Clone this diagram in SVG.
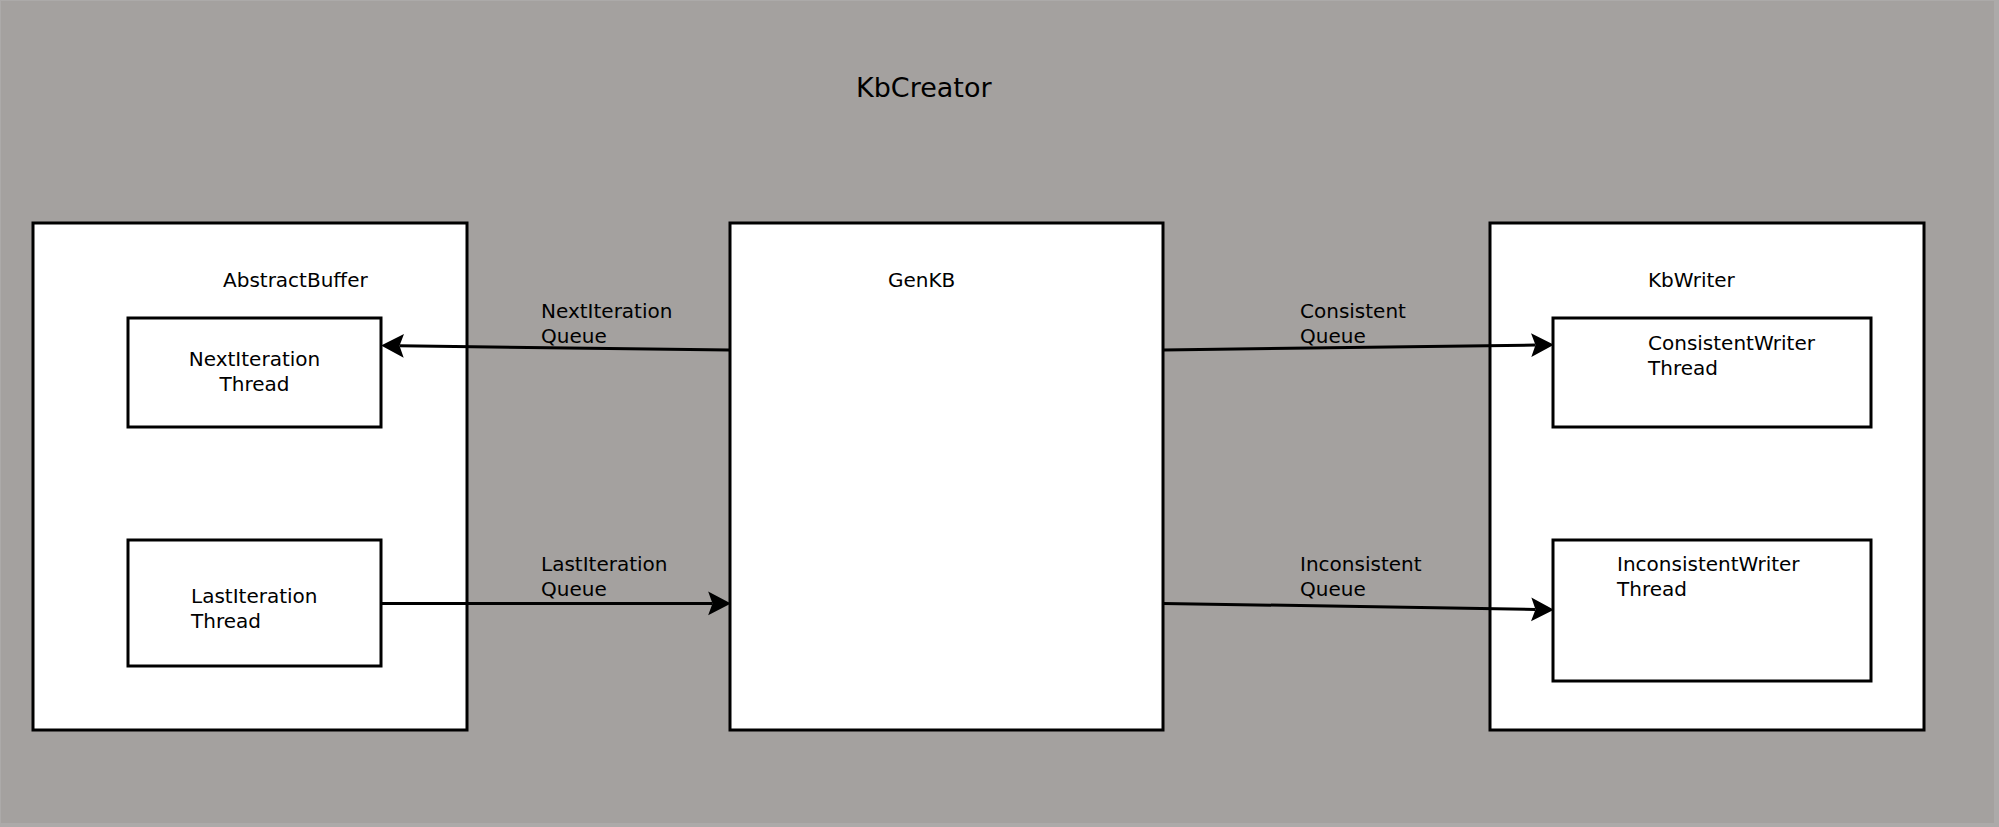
<svg xmlns="http://www.w3.org/2000/svg" width="1999" height="827" viewBox="0 0 1999 827">
<style>
.box{fill:#ffffff;stroke:#000000;stroke-width:3}
.lbl{font-family:"DejaVu Sans","Liberation Sans",sans-serif;font-size:20px;fill:#000000}
.title{font-family:"DejaVu Sans","Liberation Sans",sans-serif;font-size:27px;fill:#000000}
.conn{stroke:#000000;stroke-width:3;fill:none;marker-end:url(#arr)}
</style>
<defs>
<marker id="arr" markerUnits="userSpaceOnUse" markerWidth="24" markerHeight="26" viewBox="0 -12 22 24" refX="4" refY="0" orient="auto">
<path d="M0,-11 L21,0 L0,11 L4,0 Z" fill="#000000"/>
</marker>
</defs>
<rect x="0" y="0" width="1999" height="827" fill="#acaaa9"/>
<rect x="1" y="1" width="1993" height="822" fill="#a4a19f"/>
<g id="kbcreator">
<text class="title" x="856" y="97">KbCreator</text>
</g>
<g id="abstractbuffer">
<rect class="box" x="33" y="223" width="434" height="507"/>
<text class="lbl" x="223" y="287">AbstractBuffer</text>
</g>
<g id="nextiteration-thread">
<rect class="box" x="128" y="318" width="253" height="109"/>
<text class="lbl" x="254.5" y="366" text-anchor="middle">NextIteration</text>
<text class="lbl" x="254.5" y="391" text-anchor="middle">Thread</text>
</g>
<g id="lastiteration-thread">
<rect class="box" x="128" y="540" width="253" height="126"/>
<text class="lbl" x="191" y="603">LastIteration</text>
<text class="lbl" x="191" y="628">Thread</text>
</g>
<g id="genkb">
<rect class="box" x="730" y="223" width="433" height="507"/>
<text class="lbl" x="888" y="287">GenKB</text>
</g>
<g id="kbwriter">
<rect class="box" x="1490" y="223" width="434" height="507"/>
<text class="lbl" x="1648" y="287">KbWriter</text>
</g>
<g id="consistentwriter-thread">
<rect class="box" x="1553" y="318" width="318" height="109"/>
<text class="lbl" x="1648" y="350">ConsistentWriter</text>
<text class="lbl" x="1648" y="375">Thread</text>
</g>
<g id="inconsistentwriter-thread">
<rect class="box" x="1553" y="540" width="318" height="141"/>
<text class="lbl" x="1617" y="571">InconsistentWriter</text>
<text class="lbl" x="1617" y="596">Thread</text>
</g>
<g id="connectors">
<line class="conn" x1="729.5" y1="350" x2="399.5" y2="345.8"/>
<line class="conn" x1="381.5" y1="603.4" x2="712.5" y2="603.4"/>
<line class="conn" x1="1163.5" y1="350" x2="1535.5" y2="345.1"/>
<line class="conn" x1="1163.5" y1="603.4" x2="1535.5" y2="609.4"/>
<text class="lbl" x="541" y="318">NextIteration</text>
<text class="lbl" x="541" y="343">Queue</text>
<text class="lbl" x="541" y="571">LastIteration</text>
<text class="lbl" x="541" y="596">Queue</text>
<text class="lbl" x="1300" y="318">Consistent</text>
<text class="lbl" x="1300" y="343">Queue</text>
<text class="lbl" x="1300" y="571">Inconsistent</text>
<text class="lbl" x="1300" y="596">Queue</text>
</g>
</svg>
